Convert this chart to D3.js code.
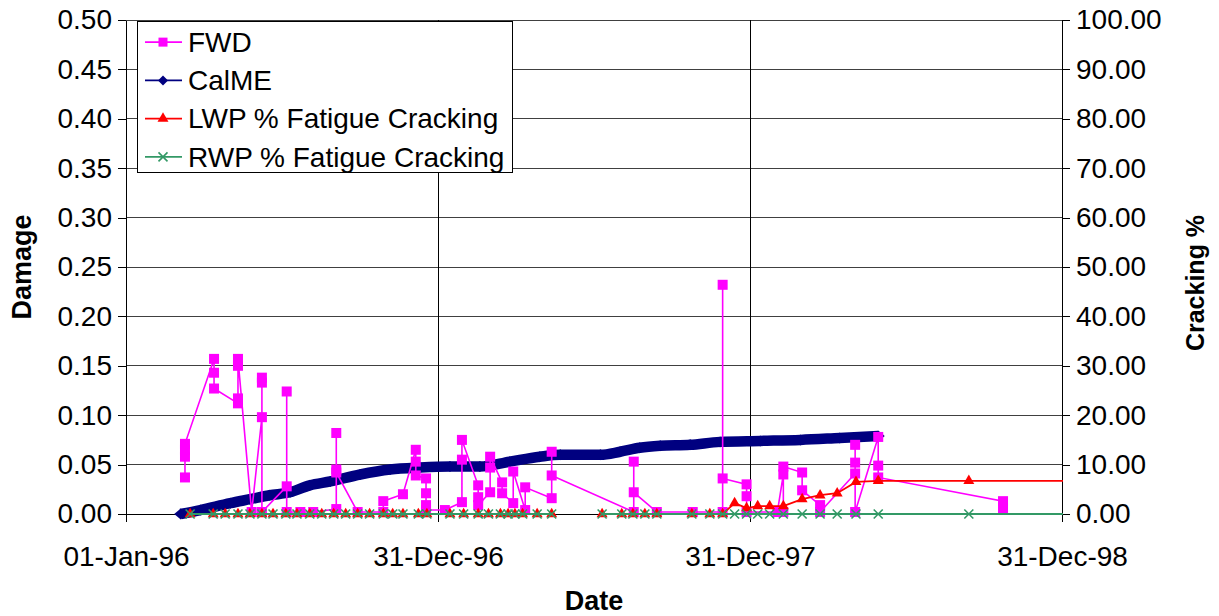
<!DOCTYPE html>
<html>
<head>
<meta charset="utf-8">
<script src="https://cdn.jsdelivr.net/npm/d3@7"></script>
<style>
	body { margin: 0; background: #fff; }
	text { font-family: "Liberation Sans", Arial, sans-serif; fill: #000; }
</style>
</head>
<body>
<div id="chart"></div>
<script>

// ---- data ----

var dateTicks = ["1996-01-01", "1996-12-31", "1997-12-31", "1998-12-31"];
var damageTicks = [0, 0.05, 0.10, 0.15, 0.20, 0.25, 0.30, 0.35, 0.40, 0.45, 0.50];
var crackTicks = [0, 10, 20, 30, 40, 50, 60, 70, 80, 90, 100];

// FWD back-calculated damage, in survey order
var fwdData = [
	["1996-03-10", 0.037], ["1996-03-10", 0.058], ["1996-03-10", 0.065], ["1996-03-10", 0.071],
	["1996-04-13", 0.157], ["1996-04-13", 0.143], ["1996-04-13", 0.127],
	["1996-05-11", 0.112], ["1996-05-11", 0.117], ["1996-05-11", 0.150], ["1996-05-11", 0.157],
	["1996-05-27", 0.002],
	["1996-06-08", 0.098], ["1996-06-08", 0.133], ["1996-06-08", 0.138], ["1996-06-08", 0.002],
	["1996-07-07", 0.028], ["1996-07-07", 0.124], ["1996-07-07", 0.002],
	["1996-07-23", 0.002], ["1996-08-07", 0.002],
	["1996-09-03", 0.005], ["1996-09-03", 0.082], ["1996-09-03", 0.045], ["1996-09-03", 0.042],
	["1996-09-28", 0.002],
	["1996-10-28", 0.002], ["1996-10-28", 0.013],
	["1996-11-20", 0.020],
	["1996-12-05", 0.065], ["1996-12-05", 0.053], ["1996-12-05", 0.039],
	["1996-12-17", 0.036], ["1996-12-17", 0.021], ["1996-12-17", 0.009], ["1996-12-17", 0.004],
	["1997-01-08", 0.004],
	["1997-01-28", 0.012], ["1997-01-28", 0.055], ["1997-01-28", 0.075],
	["1997-02-16", 0.029], ["1997-02-16", 0.017], ["1997-02-16", 0.009],
	["1997-03-02", 0.022], ["1997-03-02", 0.047], ["1997-03-02", 0.058],
	["1997-03-16", 0.032], ["1997-03-16", 0.021],
	["1997-03-29", 0.011], ["1997-03-29", 0.043],
	["1997-04-12", 0.004], ["1997-04-12", 0.027],
	["1997-05-13", 0.016], ["1997-05-13", 0.063], ["1997-05-13", 0.039],
	["1997-08-17", 0.002], ["1997-08-17", 0.053], ["1997-08-17", 0.022],
	["1997-09-13", 0.002], ["1997-10-25", 0.002],
	["1997-11-29", 0.002], ["1997-11-29", 0.232], ["1997-11-29", 0.036],
	["1997-12-27", 0.030], ["1997-12-27", 0.018], ["1997-12-27", 0.002],
	["1998-02-01", 0.002],
	["1998-02-08", 0.040], ["1998-02-08", 0.002], ["1998-02-08", 0.048],
	["1998-03-02", 0.042], ["1998-03-02", 0.024],
	["1998-03-23", 0.009], ["1998-03-23", 0.002],
	["1998-05-03", 0.041], ["1998-05-03", 0.052], ["1998-05-03", 0.070], ["1998-05-03", 0.002],
	["1998-05-30", 0.078], ["1998-05-30", 0.049], ["1998-05-30", 0.037],
	["1998-10-23", 0.013], ["1998-10-23", 0.006]
];

// CalME predicted damage
var calmeData = [
	["1996-03-05", 0.000], ["1996-03-28", 0.004], ["1996-05-02", 0.011], ["1996-05-25", 0.015],
	["1996-06-17", 0.019], ["1996-07-11", 0.022], ["1996-08-03", 0.029], ["1996-08-27", 0.033],
	["1996-10-01", 0.040], ["1996-11-05", 0.045], ["1996-12-10", 0.047], ["1997-01-14", 0.048],
	["1997-02-18", 0.048], ["1997-03-25", 0.053], ["1997-04-29", 0.058], ["1997-05-23", 0.060],
	["1997-07-09", 0.060], ["1997-08-01", 0.063], ["1997-08-24", 0.067], ["1997-09-17", 0.069],
	["1997-10-22", 0.070], ["1997-11-26", 0.073], ["1998-01-12", 0.074], ["1998-02-28", 0.075],
	["1998-04-15", 0.077], ["1998-05-30", 0.079]
];

// crack survey dates (null = no survey recorded), last one lies past the axis end
var crackDates = [
	"1996-03-16", "1996-04-12", "1996-04-26", "1996-05-11", "1996-05-25", "1996-06-08", "1996-06-21",
	"1996-07-06", "1996-07-19", "1996-08-03", "1996-08-17", "1996-08-31", "1996-09-14", "1996-09-28",
	"1996-10-12", "1996-10-28", "1996-11-08", "1996-11-20", "1996-12-08", "1996-12-18", "1997-01-14",
	"1997-01-30", "1997-02-16", "1997-02-28", "1997-03-14", "1997-03-23", "1997-03-31", "1997-04-09",
	"1997-04-26", "1997-05-13", "1997-06-09", "1997-07-11", "1997-08-03", "1997-08-16", "1997-08-30",
	"1997-09-13", "1997-10-24", "1997-11-14", "1997-11-29", "1997-12-13", "1997-12-27", "1998-01-09",
	"1998-01-23", "1998-02-08", "1998-03-02", "1998-03-23", "1998-04-12", "1998-05-04", "1998-05-30",
	"1998-09-13", "1999-02-13"
];
var lwpCracking = [
	0, 0, 0, 0, 0, 0, 0, 0, 0, 0, 0, 0, 0, 0, 0, 0, 0, 0, 0, 0, 0, 0, 0, 0, 0, 0, 0, 0, 0, 0,
	null, 0, 0, 0, 0, 0, 0, 0, 0,
	2.2, 1.2, 1.6, 1.6, 1.6, 3.0, 3.8, 4.2, 6.5, 6.7, 6.7, 6.7
];
var rwpCracking = [
	0, 0, 0, 0, 0, 0, 0, 0, 0, 0, 0, 0, 0, 0, 0, 0, 0, 0, 0, 0, 0, 0, 0, 0, 0, 0, 0, 0, 0, 0,
	null, 0, 0, 0, 0, 0, 0, 0, 0,
	0, 0, 0, 0, 0, 0, 0, 0, 0, 0, 0, 0
];

var legendNames = ["FWD", "CalME", "LWP % Fatigue Cracking", "RWP % Fatigue Cracking"];

// ---- drawing ----

var width = 1219, height = 616;
var plot = { left: 126, right: 1062, top: 20, bottom: 514 };

var parseDate = d3.timeParse("%Y-%m-%d");

var svg = d3.select("#chart").append("svg")
	.attr("width", width)
	.attr("height", height);

var x = d3.scaleTime()
	.domain([parseDate(dateTicks[0]), parseDate(dateTicks[dateTicks.length - 1])])
	.range([plot.left, plot.right]);
var yDamage = d3.scaleLinear().domain([0, 0.5]).range([plot.bottom, plot.top]);
var yCrack = d3.scaleLinear().domain([0, 100]).range([plot.bottom, plot.top]);

svg.append("defs").append("clipPath").attr("id", "plotClip")
	.append("rect")
	.attr("x", 0).attr("y", 0)
	.attr("width", plot.right + 1).attr("height", height);

// gridlines
var grid = svg.append("g").attr("shape-rendering", "crispEdges");
grid.selectAll("line.hgrid")
	.data(damageTicks.slice(1))
	.enter().append("line")
	.attr("x1", plot.left).attr("x2", plot.right)
	.attr("y1", d => yDamage(d)).attr("y2", d => yDamage(d))
	.attr("stroke", "#404040");
grid.selectAll("line.vgrid")
	.data(dateTicks.slice(1, dateTicks.length - 1))
	.enter().append("line")
	.attr("x1", d => x(parseDate(d))).attr("x2", d => x(parseDate(d)))
	.attr("y1", plot.top).attr("y2", plot.bottom)
	.attr("stroke", "#000");

// axes
var fontSize = "28px", titleSize = "27px";

var xAxis = svg.append("g")
	.attr("transform", "translate(0," + plot.bottom + ")")
	.call(d3.axisBottom(x)
		.tickValues(dateTicks.map(parseDate))
		.tickFormat(d3.timeFormat("%d-%b-%y"))
		.tickSize(8).tickSizeOuter(0));
xAxis.selectAll("text").attr("y", 52).attr("dy", 0);

var leftAxis = svg.append("g")
	.attr("transform", "translate(" + plot.left + ",0)")
	.call(d3.axisLeft(yDamage)
		.tickValues(damageTicks)
		.tickFormat(d3.format(".2f"))
		.tickSize(8).tickPadding(6).tickSizeOuter(0));

var rightAxis = svg.append("g")
	.attr("transform", "translate(" + plot.right + ",0)")
	.call(d3.axisRight(yCrack)
		.tickValues(crackTicks)
		.tickFormat(d3.format(".2f"))
		.tickSize(8).tickPadding(6).tickSizeOuter(0));

svg.selectAll(".tick text")
	.style("font-family", '"Liberation Sans", Arial, sans-serif')
	.style("font-size", fontSize)
	.attr("fill", "#000");
svg.selectAll(".domain, .tick line")
	.attr("stroke", "#000")
	.attr("shape-rendering", "crispEdges");

// axis titles
svg.append("text")
	.attr("x", (plot.left + plot.right) / 2).attr("y", 610)
	.attr("text-anchor", "middle")
	.style("font-size", titleSize).style("font-weight", "bold")
	.text("Date");
svg.append("text")
	.attr("transform", "translate(31,267)rotate(-90)")
	.attr("text-anchor", "middle")
	.style("font-size", titleSize).style("font-weight", "bold")
	.text("Damage");
svg.append("text")
	.attr("transform", "translate(1204,283)rotate(-90)")
	.attr("text-anchor", "middle")
	.style("font-size", "25px").style("font-weight", "bold")
	.text("Cracking %");

// series
var series = svg.append("g").attr("clip-path", "url(#plotClip)");

function drawCalme(g) {
	g.append("path")
		.datum(calmeData)
		.attr("fill", "none")
		.attr("stroke", "#000080")
		.attr("stroke-width", 10.5)
		.attr("stroke-linejoin", "round")
		.attr("d", d3.line().curve(d3.curveMonotoneX).x(d => x(parseDate(d[0]))).y(d => yDamage(d[1])));
	g.selectAll("path.calme")
		.data(calmeData)
		.enter().append("path")
		.attr("class", "calme")
		.attr("transform", d => "translate(" + x(parseDate(d[0])) + "," + yDamage(d[1]) + ")")
		.attr("d", "M0,-5.5L6.5,0L0,5.5L-6.5,0Z")
		.attr("fill", "#000080");
}

function drawFwd(g) {
	g.append("path")
		.datum(fwdData)
		.attr("fill", "none")
		.attr("stroke", "#FF00FF")
		.attr("stroke-width", 1.6)
		.attr("d", d3.line().x(d => x(parseDate(d[0]))).y(d => yDamage(d[1])));
	g.selectAll("rect.fwd")
		.data(fwdData)
		.enter().append("rect")
		.attr("class", "fwd")
		.attr("x", d => x(parseDate(d[0])) - 5)
		.attr("y", d => yDamage(d[1]) - 5)
		.attr("width", 10).attr("height", 10)
		.attr("fill", "#FF00FF");
}

function crackPoints(values) {
	return crackDates.map((d, i) => [d, values[i]]);
}

var triangle = d3.symbol().type(d3.symbolTriangle).size(52);

function drawLwp(g) {
	var pts = crackPoints(lwpCracking);
	g.append("path")
		.datum(pts)
		.attr("fill", "none")
		.attr("stroke", "#FF0000")
		.attr("stroke-width", 1.8)
		.attr("d", d3.line().defined(d => d[1] !== null)
			.x(d => x(parseDate(d[0]))).y(d => yCrack(d[1])));
	g.selectAll("path.lwp")
		.data(pts.filter(d => d[1] !== null))
		.enter().append("path")
		.attr("class", "lwp")
		.attr("transform", d => "translate(" + x(parseDate(d[0])) + "," + yCrack(d[1]) + ")")
		.attr("d", triangle)
		.attr("fill", "#FF0000");
}

function drawRwp(g) {
	var pts = crackPoints(rwpCracking);
	g.append("path")
		.datum(pts)
		.attr("fill", "none")
		.attr("stroke", "#339966")
		.attr("stroke-width", 1.8)
		.attr("d", d3.line().defined(d => d[1] !== null)
			.x(d => x(parseDate(d[0]))).y(d => yCrack(d[1])));
	g.selectAll("path.rwp")
		.data(pts.filter(d => d[1] !== null))
		.enter().append("path")
		.attr("class", "rwp")
		.attr("transform", d => "translate(" + x(parseDate(d[0])) + "," + yCrack(d[1]) + ")")
		.attr("d", "M-4.5,-4.5L4.5,4.5M-4.5,4.5L4.5,-4.5")
		.attr("stroke", "#339966")
		.attr("stroke-width", 1.6);
}

drawCalme(series.append("g"));
drawFwd(series.append("g"));
drawLwp(series.append("g"));
drawRwp(series.append("g"));

// legend
var legend = svg.append("g");
legend.append("rect")
	.attr("x", 137.5).attr("y", 21.5)
	.attr("width", 375).attr("height", 151)
	.attr("fill", "#fff")
	.attr("stroke", "#000");

var legendColors = ["#FF00FF", "#000080", "#FF0000", "#339966"];
var rowY = d3.scaleBand().domain(legendNames).range([23, 176]);

legendNames.forEach((name, i) => {
	var cy = rowY(name) + rowY.bandwidth() / 2;
	var row = legend.append("g").attr("transform", "translate(0," + cy + ")");
	row.append("line")
		.attr("x1", 145).attr("x2", 182)
		.attr("stroke", legendColors[i]).attr("stroke-width", 1.6);
	var m = row.append("g").attr("transform", "translate(163,0)");
	if (i == 0) m.append("rect").attr("x", -4.5).attr("y", -4.5).attr("width", 9).attr("height", 9).attr("fill", legendColors[i]);
	if (i == 1) m.append("path").attr("d", "M0,-5L5,0L0,5L-5,0Z").attr("fill", legendColors[i]);
	if (i == 2) m.append("path").attr("d", triangle).attr("fill", legendColors[i]);
	if (i == 3) m.append("path").attr("d", "M-4.5,-4.5L4.5,4.5M-4.5,4.5L4.5,-4.5").attr("stroke", legendColors[i]).attr("stroke-width", 1.6);
	row.append("text")
		.attr("x", 188).attr("dy", "0.35em")
		.style("font-size", fontSize)
		.text(name);
});

</script>
</body>
</html>
